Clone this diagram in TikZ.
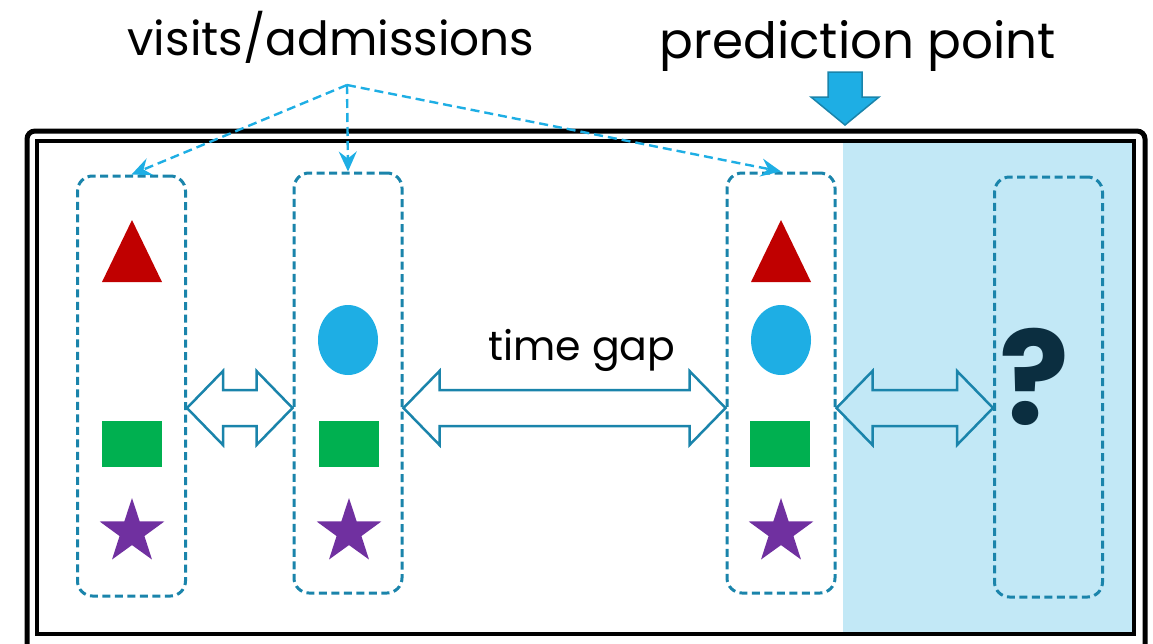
\documentclass[tikz,border=0pt]{standalone}
\usepackage{fontspec}
\setmainfont{Poppins}
\usetikzlibrary{shapes.geometric,arrows.meta,calc}

\definecolor{boxblue}{HTML}{1A84AB}
\definecolor{skyblue}{HTML}{1EAEE4}
\definecolor{futureshade}{HTML}{C2E8F6}
\definecolor{trired}{HTML}{C00000}
\definecolor{sqgreen}{HTML}{00B050}
\definecolor{starpurple}{HTML}{7030A0}
\definecolor{qnavy}{HTML}{0B2E40}

\tikzset{
  visit/.style={draw=boxblue, line width=3pt, dash pattern=on 8pt off 4.5pt,
    rounded corners=15pt, minimum width=108pt, minimum height=420pt, inner sep=0},
  pointer/.style={skyblue, line width=2.4pt, dash pattern=on 9pt off 5pt,
    -{Stealth[length=20pt, width=18pt, inset=7pt]}},
  gaparrow/.style={draw=boxblue, line width=2.5pt, fill=white, line join=miter},
  redtri/.pic={\fill[trired] (-30,31) -- (0,-31) -- (30,31) -- cycle;},
}

% double block arrow between two points at the same height
\newcommand\gaparrowpath[3][white]{%
  \path[gaparrow, fill=#1] let \p1=(#2), \p2=(#3) in
    (\x1,\y1) -- (\x1+36pt,\y1+37pt) -- (\x1+36pt,\y1+18pt)
    -- (\x2-36pt,\y1+18pt) -- (\x2-36pt,\y1+37pt) -- (\x2,\y2)
    -- (\x2-36pt,\y1-37pt) -- (\x2-36pt,\y1-18pt) -- (\x1+36pt,\y1-18pt)
    -- (\x1+36pt,\y1-37pt) -- cycle;}

\begin{document}
\begin{tikzpicture}[x=1pt, y=-1pt]
  \clip (0,0) rectangle (1153,643);

  % frame and the part after the prediction point
  \fill[futureshade] (843,141) rectangle (1133,632);
  \draw[line width=5pt, rounded corners=8pt] (27,131) rectangle (1145,720);
  \draw[line width=4pt] (37,141) rectangle (1134,634);

  % titles
  \node[font=\fontsize{47}{47}\selectfont, anchor=base] (vtitle) at (331,55) {visits/admissions};
  \node[font=\fontsize{50}{50}\selectfont, anchor=base] (ptitle) at (858,58) {prediction point};

  % prediction point marker
  \coordinate (pp) at (845,125);
  \filldraw[fill=skyblue, draw=boxblue, line width=1.5pt, line join=miter]
    (pp) -- ++(-34,-28) -- ++(17,0) -- ++(0,-25) -- ++(34,0) -- ++(0,25) -- ++(17,0) -- cycle;

  % the visits
  \node[visit] (b1) at (131.5,386) {};
  \node[visit] (b2) at (348,383) {};
  \node[visit] (b3) at (781,383) {};
  \node[visit] (b4) at (1048.5,387) {};

  \begin{scope}[every node/.style={inner sep=0, minimum width=60pt, minimum height=46pt}]
    \pic at (132,251) {redtri};
    \pic at (781,251) {redtri};

    \node[ellipse, fill=skyblue, minimum height=70pt] (c2) at (348,340) {};
    \node[ellipse, fill=skyblue, minimum height=70pt] (c3) at (781,340) {};

    \node[fill=sqgreen] (r1) at (132,444) {};
    \node[fill=sqgreen] (r2) at (349,444) {};
    \node[fill=sqgreen] (r3) at (780,444) {};

    \node[star, star points=5, star point ratio=2.6, fill=starpurple, minimum size=68pt] (s1) at (132,532) {};
    \node[star, star points=5, star point ratio=2.6, fill=starpurple, minimum size=68pt] (s2) at (349,532) {};
    \node[star, star points=5, star point ratio=2.6, fill=starpurple, minimum size=68pt] (s3) at (781,532) {};
  \end{scope}

  \node[text=qnavy, font=\fontsize{130}{130}\selectfont\bfseries, inner sep=0] (q) at (1034,377) {?};

  % gaps between visits
  \coordinate (gap) at (0,408);
  \gaparrowpath{b1.east |- gap}{b2.west |- gap}
  \gaparrowpath{b2.east |- gap}{b3.west |- gap}
  \gaparrowpath[futureshade]{b3.east |- gap}{b4.west |- gap}
  \node[font=\fontsize{41}{41}\selectfont, anchor=base] (gaplabel) at (582,360) {time gap};

  % pointers to the visits
  \coordinate (va) at (347,85);
  \draw[pointer] (va) -- (b1.north);
  \draw[pointer] (va) -- (b2.north);
  \draw[pointer] (va) -- (b3.north);
\end{tikzpicture}
\end{document}
